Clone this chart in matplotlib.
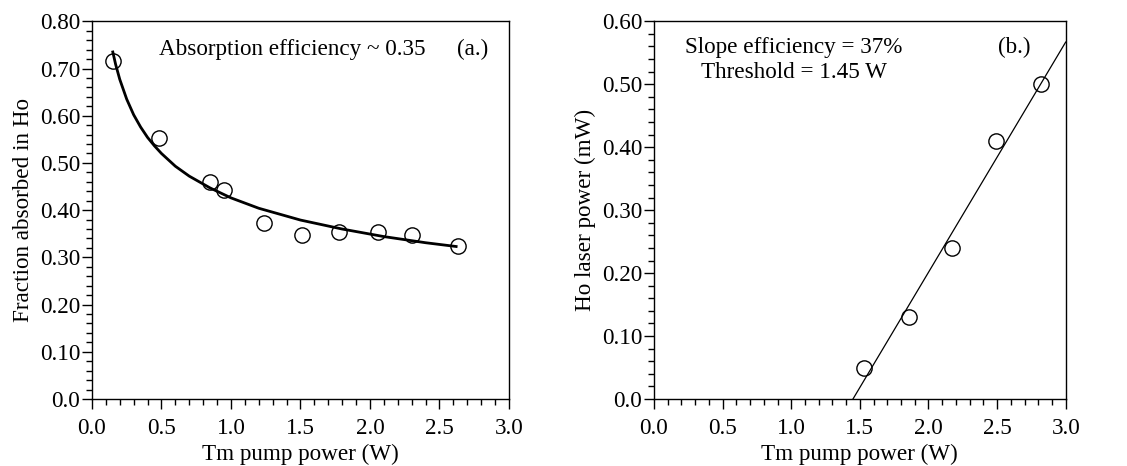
import matplotlib
matplotlib.use("Agg")
import matplotlib.pyplot as plt
from matplotlib.ticker import MultipleLocator, FormatStrFormatter

plt.rcParams['font.family'] = ['Liberation Serif', 'DejaVu Serif']

# Panel (a) data
pump_a = [0.15, 0.48, 0.85, 0.95, 1.24, 1.51, 1.78, 2.06, 2.30, 2.63]
frac_a = [0.715, 0.553, 0.460, 0.443, 0.373, 0.348, 0.353, 0.353, 0.347, 0.324]
fit_x_a = [0.15, 0.17, 0.2, 0.25, 0.3, 0.35, 0.4, 0.45, 0.5, 0.6, 0.7, 0.85, 1.0,
           1.2, 1.5, 1.8, 2.1, 2.4, 2.62]
fit_y_a = [0.735, 0.709, 0.677, 0.635, 0.602, 0.576, 0.554, 0.536, 0.520, 0.493,
           0.472, 0.447, 0.426, 0.404, 0.379, 0.360, 0.344, 0.331, 0.323]

# Panel (b) data
pump_b = [1.53, 1.86, 2.17, 2.49, 2.82]
power_b = [0.05, 0.13, 0.24, 0.41, 0.50]
fit_x_b = [1.45, 3.0]
fit_y_b = [0.0, 0.567]

fig = plt.figure(figsize=(11.27, 4.66), dpi=100)
ax1 = fig.add_axes([0.0816, 0.1438, 0.370, 0.8105])
ax2 = fig.add_axes([0.5803, 0.1438, 0.3653, 0.8105])

FS = 16.7

def style(ax, ymax, ymajor, ylabel):
    ax.set_xlim(0, 3.0)
    ax.set_ylim(0, ymax)
    ax.xaxis.set_major_locator(MultipleLocator(0.5))
    ax.xaxis.set_minor_locator(MultipleLocator(0.1))
    ax.yaxis.set_major_locator(MultipleLocator(ymajor))
    ax.yaxis.set_minor_locator(MultipleLocator(ymajor / 5))
    ax.xaxis.set_major_formatter(FormatStrFormatter('%.1f'))
    ax.yaxis.set_major_formatter(lambda v, p: '0.0' if abs(v) < 1e-9 else '%.2f' % v)
    ax.tick_params(which='both', direction='out', top=False, right=False,
                   labelsize=FS, width=1)
    ax.tick_params(axis='y', pad=1.5)
    ax.tick_params(axis='x', pad=6.5)
    ax.tick_params(which='major', length=7)
    ax.tick_params(which='minor', length=4)
    for s in ax.spines.values():
        s.set_linewidth(1)
    ax.set_xlabel('Tm pump power (W)', fontsize=FS, labelpad=3.5)
    ax.set_ylabel(ylabel, fontsize=FS, labelpad=4)

style(ax1, 0.80, 0.10, 'Fraction absorbed in Ho')
ax1.plot(fit_x_a, fit_y_a, color='black', lw=2.0, zorder=2)
ax1.plot(pump_a, frac_a, 'o', mfc='none', mec='black', ms=11, mew=1.0, zorder=3)
ax1.text(0.161, 0.911, 'Absorption efficiency ~ 0.35', transform=ax1.transAxes,
         fontsize=FS, ha='left', va='baseline')
ax1.text(0.914, 0.911, '(a.)', transform=ax1.transAxes, fontsize=FS,
         ha='center', va='baseline')

style(ax2, 0.60, 0.10, 'Ho laser power (mW)')
ax2.plot(fit_x_b, fit_y_b, color='black', lw=0.9, zorder=2)
ax2.plot(pump_b, power_b, 'o', mfc='none', mec='black', ms=11, mew=1.0, zorder=3)
ax2.text(0.340, 0.916, 'Slope efficiency = 37%', transform=ax2.transAxes,
         fontsize=FS, ha='center', va='baseline')
ax2.text(0.340, 0.850, 'Threshold = 1.45 W', transform=ax2.transAxes,
         fontsize=FS, ha='center', va='baseline')
ax2.text(0.874, 0.916, '(b.)', transform=ax2.transAxes, fontsize=FS,
         ha='center', va='baseline')

fig.savefig('out.png', dpi=100)
